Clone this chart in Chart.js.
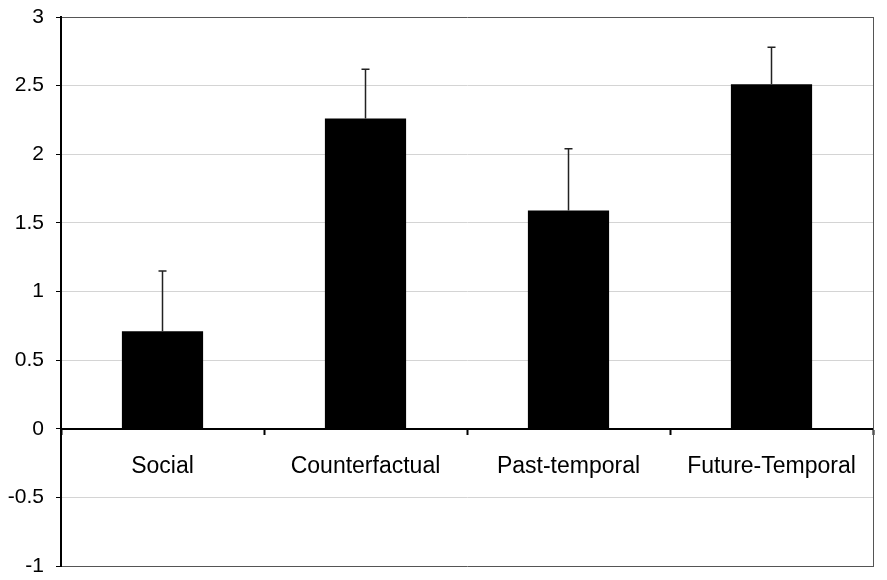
<!DOCTYPE html>
<html>
<head>
<meta charset="utf-8">
<script src="https://cdn.jsdelivr.net/npm/chart.js@4/dist/chart.umd.min.js"></script>
<style>
  html, body { margin: 0; padding: 0; background: #fff; }
  #wrap { width: 887px; height: 580px; }
</style>
</head>
<body>
<div id="wrap"><canvas id="chart"></canvas></div>
<script>
// data
const categories = ['Social', 'Counterfactual', 'Past-temporal', 'Future-Temporal'];
const means = [0.71, 2.26, 1.59, 2.51];
const errorTops = [1.15, 2.62, 2.04, 2.78];

// draws the upper error whiskers using the chart's own scales
const errorBars = {
    id: 'errorBars',
    afterDatasetsDraw(chart) {
        const ctx = chart.ctx;
        const meta = chart.getDatasetMeta(0);
        const y = chart.scales.y;
        ctx.save();
        ctx.strokeStyle = '#222';
        ctx.lineWidth = 1.5;
        meta.data.forEach((bar, i) => {
            const top = y.getPixelForValue(errorTops[i]);
            const base = y.getPixelForValue(means[i]);
            ctx.beginPath();
            ctx.moveTo(bar.x, base);
            ctx.lineTo(bar.x, top);
            ctx.moveTo(bar.x - 4, top);
            ctx.lineTo(bar.x + 4, top);
            ctx.stroke();
        });
        ctx.restore();
    }
};

// keep the plot box where the layout padding says, not where labels push it
function noPad(scale) {
    scale.paddingTop = 0;
    scale.paddingBottom = 0;
    scale.paddingLeft = 0;
    scale.paddingRight = 0;
}

Chart.defaults.font.family = '"Liberation Sans", Arial, sans-serif';
Chart.defaults.color = '#000';

new Chart(document.getElementById('chart').getContext('2d'), {
    type: 'bar',
    data: {
        labels: categories,
        datasets: [{
            data: means,
            backgroundColor: '#000',
            borderWidth: 0,
            barPercentage: 0.4,
            categoryPercentage: 1.0
        }]
    },
    options: {
        responsive: true,
        maintainAspectRatio: false,
        animation: false,
        layout: { padding: { left: 0, top: 17, right: 13, bottom: 14 } },
        plugins: {
            legend: { display: false },
            tooltip: { enabled: false }
        },
        scales: {
            x: {
                position: { y: 0 },
                z: 1,
                afterFit: noPad,
                border: { color: '#000', width: 2 },
                grid: {
                    offset: true,
                    drawOnChartArea: false,
                    drawTicks: true,
                    tickLength: 5,
                    tickColor: '#000',
                    tickWidth: 2
                },
                ticks: {
                    padding: 19,
                    font: { size: 23 },
                    color: '#000'
                }
            },
            y: {
                min: -1,
                max: 3,
                afterFit: (scale) => { scale.width = 61; noPad(scale); },
                border: { color: '#000', width: 2 },
                grid: {
                    color: (c) => (c.tick && (c.tick.value === 3 || c.tick.value === -1)) ? '#555' : '#d4d4d4',
                    lineWidth: 1,
                    tickColor: '#000',
                    tickLength: 5
                },
                ticks: {
                    stepSize: 0.5,
                    padding: 12,
                    font: { size: 21 },
                    color: '#000',
                    callback: (v) => String(v)
                }
            },
            y2: {
                position: 'right',
                min: -1,
                max: 3,
                afterFit: (scale) => { scale.width = 1; noPad(scale); },
                border: { color: '#555', width: 1 },
                grid: { drawOnChartArea: false, drawTicks: false },
                ticks: { display: false }
            }
        }
    },
    plugins: [errorBars]
});
</script>
</body>
</html>
